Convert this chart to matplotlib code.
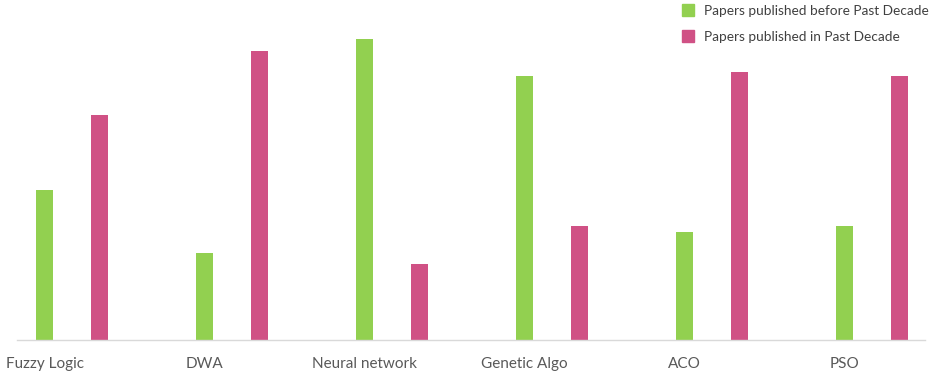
import numpy as np
import matplotlib.pyplot as plt
from matplotlib.patches import Patch

categories = ['Fuzzy Logic', 'DWA', 'Neural network', 'Genetic Algo', 'ACO', 'PSO']
before_decade = [150, 87, 301, 264, 108, 114]
past_decade = [225, 289, 76, 114, 268, 264]

green = '#92d050'
pink = '#d05185'

plt.rcParams['font.family'] = ['Lato', 'DejaVu Sans']

fig = plt.figure(figsize=(9.32, 3.73), dpi=100)
ax = fig.add_axes([17 / 932, 33 / 373, 908 / 932, 340 / 373])

x = np.arange(len(categories))
offset = 0.17
width = 0.105
ax.bar(x - offset, before_decade, width, color=green)
ax.bar(x + offset, past_decade, width, color=pink)

ax.set_xlim(-0.34375, 5.33125)
ax.set_ylim(0, 340)

for side in ['top', 'right', 'left']:
    ax.spines[side].set_visible(False)
ax.spines['bottom'].set_color('#d9d9d9')
ax.spines['bottom'].set_linewidth(1)
ax.set_yticks([])
ax.set_xticks(x - offset)
ax.set_xticklabels(categories, fontsize=11, color='#595959')
ax.tick_params(axis='x', length=0, pad=12)

handles = [Patch(color=green, label='Papers published before Past Decade'),
           Patch(color=pink, label='Papers published in Past Decade')]
leg = fig.legend(handles=handles, loc='upper left', bbox_to_anchor=(674 / 932, 1.01),
                 frameon=False, fontsize=9.8, handlelength=0.9, handleheight=0.9,
                 handletextpad=0.7, labelspacing=1.0, borderaxespad=0.2)
for t in leg.get_texts():
    t.set_color('#404040')

fig.savefig('out.png', dpi=100)
